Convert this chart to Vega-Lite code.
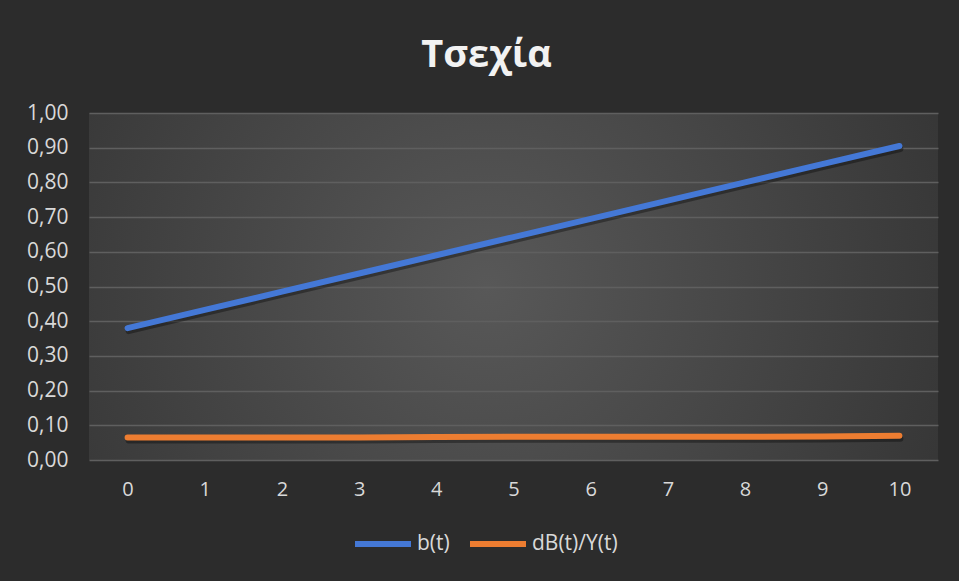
{
  "$schema": "https://vega.github.io/schema/vega-lite/v6.json",
  "width": 849,
  "height": 347,
  "autosize": {"type": "none"},
  "padding": {"left": 89, "top": 113, "right": 21, "bottom": 121},
  "background": "#2c2c2c",
  "title": {
    "text": "Τσεχία",
    "font": "Open Sans",
    "fontSize": 38,
    "fontWeight": "bold",
    "color": "#f2f2f2",
    "anchor": "middle",
    "baseline": "alphabetic",
    "offset": -3,
    "dx": -27
  },
  "data": {
    "values": [
      {"t": "0", "series": "b(t)", "value": 0.380},
      {"t": "1", "series": "b(t)", "value": 0.4325},
      {"t": "2", "series": "b(t)", "value": 0.485},
      {"t": "3", "series": "b(t)", "value": 0.5375},
      {"t": "4", "series": "b(t)", "value": 0.590},
      {"t": "5", "series": "b(t)", "value": 0.6425},
      {"t": "6", "series": "b(t)", "value": 0.695},
      {"t": "7", "series": "b(t)", "value": 0.7475},
      {"t": "8", "series": "b(t)", "value": 0.800},
      {"t": "9", "series": "b(t)", "value": 0.8525},
      {"t": "10", "series": "b(t)", "value": 0.905},
      {"t": "0", "series": "dB(t)/Y(t)", "value": 0.065},
      {"t": "1", "series": "dB(t)/Y(t)", "value": 0.065},
      {"t": "2", "series": "dB(t)/Y(t)", "value": 0.065},
      {"t": "3", "series": "dB(t)/Y(t)", "value": 0.065},
      {"t": "4", "series": "dB(t)/Y(t)", "value": 0.066},
      {"t": "5", "series": "dB(t)/Y(t)", "value": 0.067},
      {"t": "6", "series": "dB(t)/Y(t)", "value": 0.067},
      {"t": "7", "series": "dB(t)/Y(t)", "value": 0.067},
      {"t": "8", "series": "dB(t)/Y(t)", "value": 0.067},
      {"t": "9", "series": "dB(t)/Y(t)", "value": 0.068},
      {"t": "10", "series": "dB(t)/Y(t)", "value": 0.070}
    ]
  },
  "encoding": {
    "x": {
      "field": "t",
      "type": "ordinal",
      "sort": ["0","1","2","3","4","5","6","7","8","9","10"],
      "scale": {"type": "point", "padding": 0.5},
      "axis": {
        "title": null,
        "labelAngle": 0,
        "domain": false,
        "ticks": false,
        "grid": false,
        "labelPadding": 19,
        "labelFont": "Open Sans",
        "labelFontSize": 20,
        "labelColor": "#d9d9d9"
      }
    },
    "y": {
      "field": "value",
      "type": "quantitative",
      "scale": {"domain": [0, 1], "nice": false},
      "axis": {
        "title": null,
        "values": [0, 0.1, 0.2, 0.3, 0.4, 0.5, 0.6, 0.7, 0.8, 0.9, 1.0],
        "format": ".2f",
        "domain": false,
        "ticks": false,
        "grid": true,
        "gridColor": "#5f5f5f",
        "gridWidth": 1.3,
        "labelPadding": 21,
        "labelFont": "Open Sans",
        "labelFontSize": 21,
        "labelColor": "#d9d9d9"
      }
    }
  },
  "layer": [
    {
      "mark": {"type": "line", "color": "#000000", "opacity": 0.35, "strokeWidth": 6, "strokeCap": "round", "xOffset": 1, "yOffset": 3},
      "encoding": {"detail": {"field": "series", "type": "nominal"}}
    },
    {
      "mark": {"type": "line", "strokeWidth": 6, "strokeCap": "round", "strokeJoin": "round"},
      "encoding": {
        "color": {
          "field": "series",
          "type": "nominal",
          "scale": {"domain": ["b(t)", "dB(t)/Y(t)"], "range": ["#4478d6", "#ED7D31"]},
          "legend": {
            "title": null,
            "orient": "none",
            "direction": "horizontal",
            "legendX": 263,
            "legendY": 400,
            "symbolType": "stroke",
            "symbolSize": 3136,
            "symbolStrokeWidth": 6,
            "labelOffset": 3,
            "columnPadding": 8,
            "labelFont": "Open Sans",
            "labelFontSize": 21,
            "labelColor": "#d9d9d9"
          }
        }
      }
    }
  ],
  "config": {
    "locale": {"number": {"decimal": ",", "thousands": ".", "grouping": [3], "currency": ["", " €"]}},
    "view": {
      "stroke": null,
      "fill": {
        "gradient": "radial",
        "x1": 0.47, "y1": 0.5, "r1": 0,
        "x2": 0.47, "y2": 0.5, "r2": 0.75,
        "stops": [
          {"offset": 0, "color": "#585858"},
          {"offset": 1, "color": "#2c2c2c"}
        ]
      }
    }
  }
}
